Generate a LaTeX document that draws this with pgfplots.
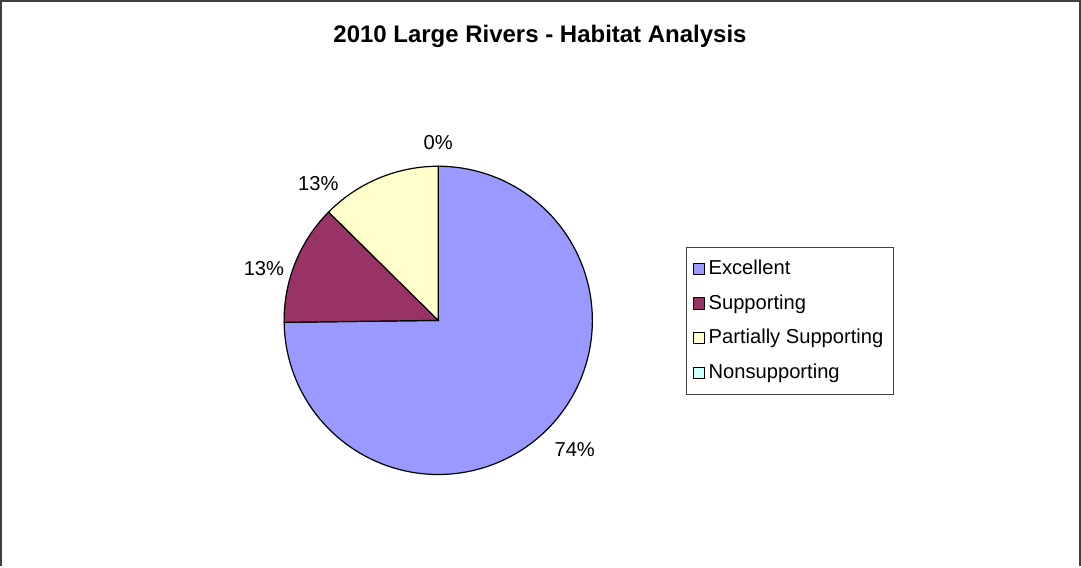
\documentclass[border=0pt]{standalone}
\usepackage{fontspec}
\setmainfont{Liberation Sans}
\usepackage{pgfplots}
\pgfplotsset{compat=1.18}
\definecolor{cExc}{HTML}{9999FF}
\definecolor{cSup}{HTML}{993366}
\definecolor{cPar}{HTML}{FFFFCC}
\definecolor{cNon}{HTML}{CCFFFF}
% shares (percent)
\def\vExc{74.8}
\def\vSup{12.6}
\def\vPar{12.6}
\def\vNon{0}
\begin{document}
\begin{tikzpicture}
\pgfmathsetmacro{\aA}{90}
\pgfmathsetmacro{\aB}{\aA-3.6*\vExc}
\pgfmathsetmacro{\aC}{\aB-3.6*\vSup}
\pgfmathsetmacro{\aD}{\aC-3.6*\vPar}
\def\cx{439}\def\cy{322}\def\R{153}
\begin{axis}[
  scale only axis, width=540.5pt, height=284.5pt,
  xmin=0, xmax=1081, ymin=-3, ymax=566, y dir=reverse,
  hide axis, clip=false,
  legend style={at={(axis cs:685,249)}, anchor=north west, draw=black!75,
    font=\fontsize{10}{12}\selectfont, row sep=4.4pt, inner xsep=3pt, inner ysep=4.4pt,
    cells={anchor=west}},
  legend cell align=left,
  legend image code/.code={\draw[#1, draw=black, line width=0.5pt] (0pt,-2.75pt) rectangle (5.5pt,2.75pt);},
]
\addplot[fill=cExc, draw=black, line width=0.6pt, domain=\aB:\aA, samples=120, variable=\t]
  ({\cx+\R*cos(\t)},{\cy-\R*sin(\t)}) -- (axis cs:\cx,\cy) -- cycle;
\addlegendentry{Excellent}
\addplot[fill=cSup, draw=black, line width=0.6pt, domain=\aC:\aB, samples=30, variable=\t]
  ({\cx+\R*cos(\t)},{\cy-\R*sin(\t)}) -- (axis cs:\cx,\cy) -- cycle;
\addlegendentry{Supporting}
\addplot[fill=cPar, draw=black, line width=0.6pt, domain=\aD:\aC, samples=30, variable=\t]
  ({\cx+\R*cos(\t)},{\cy-\R*sin(\t)}) -- (axis cs:\cx,\cy) -- cycle;
\addlegendentry{Partially Supporting}
\addlegendimage{fill=cNon}
\addlegendentry{Nonsupporting}
% data labels
\node[font=\fontsize{10}{12}\selectfont] at (axis cs:574.5,450) {74\%};
\node[font=\fontsize{10}{12}\selectfont] at (axis cs:266,271) {13\%};
\node[font=\fontsize{10}{12}\selectfont] at (axis cs:320,186) {13\%};
\node[font=\fontsize{10}{12}\selectfont] at (axis cs:439,146) {0\%};
% title
\node[font=\bfseries\fontsize{11.9}{14}\selectfont] at (axis cs:540,40) {2010 Large Rivers - Habitat Analysis};
% chart area frame
\draw[black!75, line width=1pt] (axis cs:5,566) -- (axis cs:5,5) -- (axis cs:1076,5) -- (axis cs:1076,566);
\end{axis}
\end{tikzpicture}
\end{document}
